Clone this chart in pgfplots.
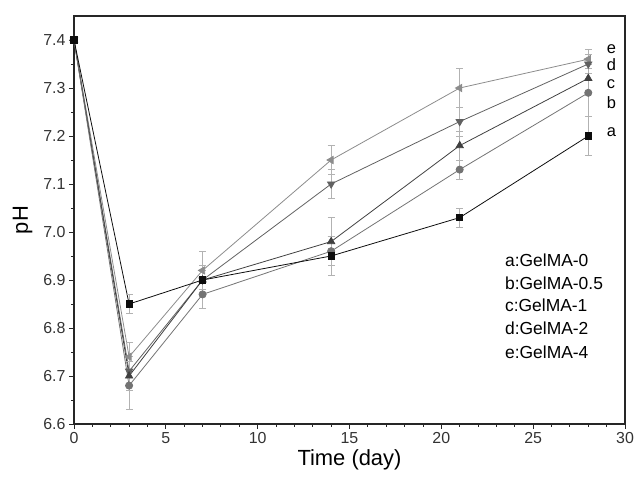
\documentclass[border=0pt]{standalone}
\usepackage{pgfplots}
\pgfplotsset{compat=1.18}
\usepackage{pgfplotstable}
\usepackage{fontspec}
\setmainfont{Liberation Sans}
\pgfplotstableread{
x y e
0 7.40 0
3 6.85 0.02
7 6.90 0.02
14 6.95 0.04
21 7.03 0.02
28 7.20 0.04
}\dataA
\pgfplotstableread{
x y e
0 7.40 0
3 6.68 0.05
7 6.87 0.03
14 6.96 0.03
21 7.13 0.02
28 7.29 0.05
}\dataB
\pgfplotstableread{
x y e
0 7.40 0
3 6.70 0.03
7 6.90 0.02
14 6.98 0.05
21 7.18 0.03
28 7.32 0.03
}\dataC
\pgfplotstableread{
x y e
0 7.40 0
3 6.71 0.03
7 6.90 0.03
14 7.10 0.03
21 7.23 0.03
28 7.35 0.02
}\dataD
\pgfplotstableread{
x y e
0 7.40 0
3 6.74 0.03
7 6.92 0.04
14 7.15 0.03
21 7.30 0.04
28 7.36 0.02
}\dataE
\definecolor{ca}{gray}{0.05}
\definecolor{cb}{gray}{0.45}
\definecolor{cc}{gray}{0.25}
\definecolor{cd}{gray}{0.38}
\definecolor{ce}{gray}{0.55}
\definecolor{eb}{gray}{0.7}
\begin{document}
\begin{tikzpicture}
\path[use as bounding box] (-74bp,-58bp) rectangle (560bp,424bp);
\begin{axis}[
  at={(0,0)}, anchor=south west,
  scale only axis, width=551bp, height=408bp,
  xmin=0, xmax=30, ymin=6.6, ymax=7.45,
  xtick={0,5,...,30}, ytick={6.6,6.7,...,7.41},
  minor x tick num=4, minor y tick num=1,
  tick align=outside, axis line style={line width=1.3pt, black!85},
  major tick length=5bp, minor tick length=3bp,
  tick style={line width=0.9pt, black!85},
  xtick pos=bottom, ytick pos=left,
  /pgf/number format/assume math mode=true,
  yticklabel style={/pgf/number format/.cd, fixed, fixed zerofill, precision=1},
  tick label style={font=\fontsize{16}{16}\selectfont, text=black!80},
  xlabel={Time (day)}, ylabel={pH},
  label style={font=\fontsize{22}{22}\selectfont},
  xlabel style={yshift=1bp},
  ylabel style={yshift=4bp},
  clip=false,
  error bars/y dir=both, error bars/y explicit,
  error bars/error bar style={eb, line width=0.8pt},
  error bars/error mark options={rotate=90, mark size=3.5bp, eb, line width=0.8pt},
]
\addplot[ce, line width=0.8pt, mark=triangle*, mark options={rotate=90, fill=ce, scale=2.1}] table[x=x,y=y,y error=e]{\dataE};
\addplot[cd, line width=0.8pt, mark=triangle*, mark options={rotate=180, fill=cd, scale=2.1}] table[x=x,y=y,y error=e]{\dataD};
\addplot[cc, line width=0.8pt, mark=triangle*, mark options={fill=cc, scale=2.1}] table[x=x,y=y,y error=e]{\dataC};
\addplot[cb, line width=0.8pt, mark=*, mark options={fill=cb, scale=1.8}] table[x=x,y=y,y error=e]{\dataB};
\addplot[ca, line width=0.8pt, mark=square*, mark options={fill=ca, scale=1.6}] table[x=x,y=y,y error=e]{\dataA};
\node[anchor=west, font=\fontsize{16.5}{16.5}\selectfont, inner sep=0] at (axis cs:29.0,7.380) {e};
\node[anchor=west, font=\fontsize{16.5}{16.5}\selectfont, inner sep=0] at (axis cs:29.0,7.348) {d};
\node[anchor=west, font=\fontsize{16.5}{16.5}\selectfont, inner sep=0] at (axis cs:29.0,7.307) {c};
\node[anchor=west, font=\fontsize{16.5}{16.5}\selectfont, inner sep=0] at (axis cs:29.0,7.270) {b};
\node[anchor=west, font=\fontsize{16.5}{16.5}\selectfont, inner sep=0] at (axis cs:29.0,7.208) {a};
\node[anchor=west, font=\fontsize{17.5}{17.5}\selectfont, inner sep=0] at (axis cs:23.46,6.942) {a:GelMA-0};
\node[anchor=west, font=\fontsize{17.5}{17.5}\selectfont, inner sep=0] at (axis cs:23.46,6.894) {b:GelMA-0.5};
\node[anchor=west, font=\fontsize{17.5}{17.5}\selectfont, inner sep=0] at (axis cs:23.46,6.848) {c:GelMA-1};
\node[anchor=west, font=\fontsize{17.5}{17.5}\selectfont, inner sep=0] at (axis cs:23.46,6.800) {d:GelMA-2};
\node[anchor=west, font=\fontsize{17.5}{17.5}\selectfont, inner sep=0] at (axis cs:23.46,6.750) {e:GelMA-4};
\end{axis}
\end{tikzpicture}
\end{document}
